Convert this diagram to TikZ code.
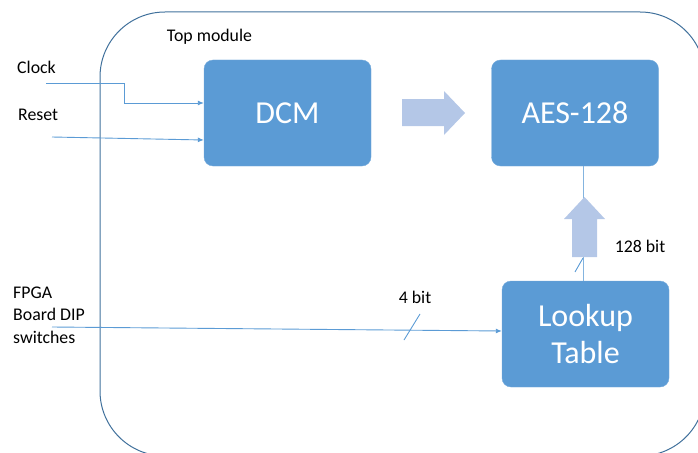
\documentclass[tikz,border=0pt]{standalone}
\usepackage{fontspec}
\setmainfont{Carlito}
\usetikzlibrary{arrows.meta,calc}
\definecolor{boxblue}{HTML}{5B9BD5}
\definecolor{frameblue}{HTML}{41719C}
\definecolor{paleblue}{HTML}{B4C7E7}
\begin{document}
\begin{tikzpicture}[x=1pt,y=-1pt,
  block/.style={fill=boxblue, draw=boxblue!85!white, rounded corners=9pt,
    minimum width=167pt, minimum height=106pt, inner sep=0pt,
    text=white, align=center, font=\fontsize{32}{37}\selectfont},
  lbl/.style={font=\fontsize{17.8}{22.5}\selectfont, text=black, inner sep=0pt},
  wire/.style={draw=boxblue, line width=0.9pt},
  tip/.style={-{Latex[length=6pt,width=5pt]}},
  fat/.style={fill=paleblue, draw=none}]

\useasboundingbox (0,0) rectangle (698,452);

% enclosing module outline, partly running off the page
\begin{scope}
  \clip (0,0) rectangle (698,452);
  \draw[frameblue, line width=1pt, rounded corners=65pt] (100,12) rectangle (705,456);
\end{scope}

% functional blocks
\node[block] (dcm) at (287.5,113) {DCM};
\node[block] (aes) at (575,113) {AES-128};
\node[block] (lut) at (585.5,334) {Lookup\\Table};

% labels
\node[lbl] (top) at (209.5,37) {Top module};
\node[lbl, anchor=west] (clk) at (17,67) {Clock};
\node[lbl, anchor=west] (rst) at (18,115) {Reset};
\node[lbl, anchor=west, align=left] (dip) at (13,315) {FPGA\\Board DIP\\switches};
\node[lbl] (b4) at (415,297) {4 bit};
\node[lbl] (b128) at (640,246) {128 bit};

% input wires
\coordinate (clkin) at (46,83);
\coordinate (rstin) at (52,137);
\coordinate (dipin) at (52,327);
\draw[wire,tip] (clkin) -- (124,83) -- (124,103) -- ($(dcm.west)+(0,-10)$);
\draw[wire,tip] (rstin) -- ($(dcm.west)+(0,27)$);
\draw[wire,tip] (dipin) -- ($(lut.west)+(0,-3)$);
\draw[wire] (404,340) -- (420,314);

% 128-bit bus from the lookup table up to the cipher core
\coordinate (bus) at ($(lut.north)+(-2.5,0)$);
\draw[draw=boxblue!75!white, line width=0.9pt] (bus) -- (bus |- aes.south);
\draw[wire] (575,272) -- (583,258);

% wide flow arrows
\fill[fat] (402,99) -- (444,99) -- (444,91) -- (465,113) -- (444,135)
  -- (444,126) -- (402,126) -- cycle;
\fill[fat] (572,257) -- (572,219) -- (564,219) -- (584.5,197) -- (605,219)
  -- (597,219) -- (597,257) -- cycle;
\end{tikzpicture}
\end{document}
